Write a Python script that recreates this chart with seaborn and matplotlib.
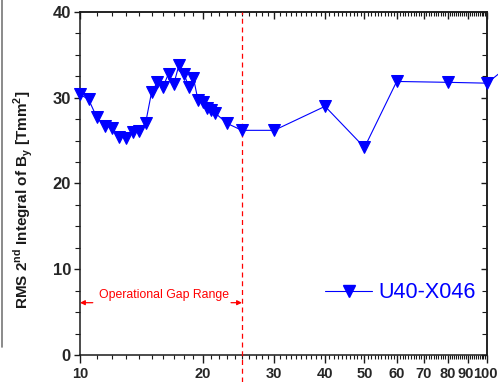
import matplotlib
matplotlib.use("Agg")
import matplotlib.pyplot as plt
from matplotlib import font_manager
from matplotlib.lines import Line2D
from matplotlib.transforms import ScaledTranslation
from matplotlib.ticker import FixedLocator, NullFormatter, FuncFormatter
import numpy as np
import pandas as pd
import seaborn as sns

# Gap [mm] and RMS second integral of By [T mm^2]
gap = [10, 10.5, 11, 11.5, 12, 12.5, 13, 13.5, 14, 14.5, 15, 15.5, 16, 16.5,
       17, 17.5, 18, 18.5, 19, 19.5, 20, 20.5, 21, 21.5, 23, 25, 30, 40, 50,
       60, 80, 100, 120]
rms = [30.4, 29.8, 27.7, 26.7, 26.5, 25.4, 25.3, 26.0, 26.1, 27.1, 30.7, 31.8,
       31.3, 32.8, 31.6, 33.8, 32.8, 31.3, 32.3, 29.7, 29.5, 28.8, 28.6, 28.2,
       27.0, 26.2, 26.2, 29.0, 24.2, 31.9, 31.8, 31.7, 34.7]
series_name = "U40-X046"

x_major = [10, 20, 30, 40, 50, 60, 70, 80, 90, 100]
x_minor = [v for v in range(11, 100) if v % 10]
y_major = [0, 10, 20, 30, 40]
y_minor = list(np.arange(0, 40.1, 2.5))
gap_limit = 25
range_label = "Operational Gap Range"

sns.set_style("ticks")
names = {f.name for f in font_manager.fontManager.ttflist}
narrow = "Liberation Sans Narrow" if "Liberation Sans Narrow" in names else "Liberation Sans"
plt.rcParams["font.family"] = [narrow, "Liberation Sans", "DejaVu Sans"]
plt.rcParams["mathtext.fontset"] = "custom"
plt.rcParams["mathtext.rm"] = narrow
plt.rcParams["mathtext.bf"] = narrow + ":bold"

ink = "#1a1a1a"
blue = "#0000ff"
red = "#ff0000"

fig = plt.figure(figsize=(4.98, 3.82), dpi=100)
ax = fig.add_axes([80 / 498, 1 - 355 / 382, 407 / 498, 343 / 382])

df = pd.DataFrame({"gap": gap, "rms": rms})
sns.lineplot(data=df, x="gap", y="rms", ax=ax, color=blue, marker="v",
             markersize=8.5, markeredgecolor=blue, linewidth=0.8,
             clip_on=False, zorder=5)

ax.set_xscale("log")
ax.set_xlim(10, 100)
ax.set_ylim(0, 40)

for side in ax.spines.values():
    side.set_linewidth(1.1)
    side.set_color(ink)

ax.xaxis.set_major_locator(FixedLocator(x_major))
ax.xaxis.set_minor_locator(FixedLocator(x_minor))
ax.xaxis.set_major_formatter(FuncFormatter(lambda v, p: f"{int(round(v))}"))
ax.xaxis.set_minor_formatter(NullFormatter())
ax.yaxis.set_major_locator(FixedLocator(y_major))
ax.yaxis.set_minor_locator(FixedLocator(y_minor))

ax.tick_params(axis="x", which="major", direction="out", length=6, width=1,
               color=ink, pad=2.5, labelsize=10.5)
ax.tick_params(axis="x", which="minor", direction="out", length=3, width=0.8,
               color=ink)
ax.tick_params(axis="y", which="major", direction="out", length=4.5, width=1,
               color=ink, pad=2, labelsize=12)
ax.tick_params(axis="y", which="minor", direction="out", length=3.5, width=0.8,
               color=ink)
for lab in ax.get_xticklabels() + ax.get_yticklabels():
    lab.set_fontweight("bold")

# Mirrored ticks on the top and right frame, pointing into the plot
top = ax.secondary_xaxis("top")
top.xaxis.set_major_locator(FixedLocator(x_major))
top.xaxis.set_minor_locator(FixedLocator(x_minor))
top.xaxis.set_major_formatter(NullFormatter())
top.xaxis.set_minor_formatter(NullFormatter())
top.tick_params(which="major", direction="in", length=5, width=1, color=ink)
top.tick_params(which="minor", direction="in", length=3, width=0.8, color=ink)
top.spines["top"].set_linewidth(1.1)

right = ax.secondary_yaxis("right")
right.yaxis.set_major_locator(FixedLocator(y_major))
right.yaxis.set_minor_locator(FixedLocator(y_minor))
right.yaxis.set_major_formatter(NullFormatter())
right.tick_params(which="major", direction="in", length=4, width=1, color=ink)
right.tick_params(which="minor", direction="in", length=3.5, width=0.8, color=ink)
right.spines["right"].set_linewidth(1.1)

ax.set_xlabel("")
ax.set_ylabel(r"RMS 2$^{\mathbf{nd}}$ Integral of B$_{\mathbf{y}}$ [Tmm$^{\mathbf{2}}$]",
              fontsize=11, fontweight="bold", color=ink)
ax.yaxis.set_label_coords(-0.11, 0.452)

# Upper end of the operational gap range
ax.axvline(gap_limit, ymin=-0.08, ymax=1, color=red, linestyle=(0, (4, 3)),
           linewidth=0.9, clip_on=False, zorder=3)

ax.text(16.1, 7.0, range_label, color=red, fontsize=8.8,
        ha="center", va="center")
arrow_style = dict(arrowstyle="-|>", color=red, lw=0.9, mutation_scale=7,
                   shrinkA=0, shrinkB=0)
ax.annotate("", xy=(10.0, 6.1), xytext=(10.75, 6.1), arrowprops=arrow_style)
ax.annotate("", xy=(gap_limit, 6.1), xytext=(23.5, 6.1), arrowprops=arrow_style)

handle = Line2D([], [], color=blue, marker="v", markersize=8.5,
                markeredgecolor=blue, linewidth=0.8)
leg = ax.legend([handle], [series_name], loc="center left",
                bbox_to_anchor=(0.602, 0.181), frameon=False, fontsize=15.5,
                handlelength=2.2, handletextpad=0.3, borderpad=0,
                borderaxespad=0, numpoints=1)
for t in leg.get_texts():
    t.set_color(blue)

# Nudge the crowded last two gap labels so they stay inside the figure
xlabels = ax.get_xticklabels()
for lab, dx_px in ((xlabels[-2], -2.5), (xlabels[-1], -2.0)):
    lab.set_transform(lab.get_transform() +
                      ScaledTranslation(dx_px / 100, 0, fig.dpi_scale_trans))

# Edge of the neighbouring panel
fig.add_artist(Line2D([1.5 / 498, 1.5 / 498], [1 - 347 / 382, 1.0],
                      transform=fig.transFigure, color="#777777", lw=1.2))

fig.savefig("out.png", dpi=100)
